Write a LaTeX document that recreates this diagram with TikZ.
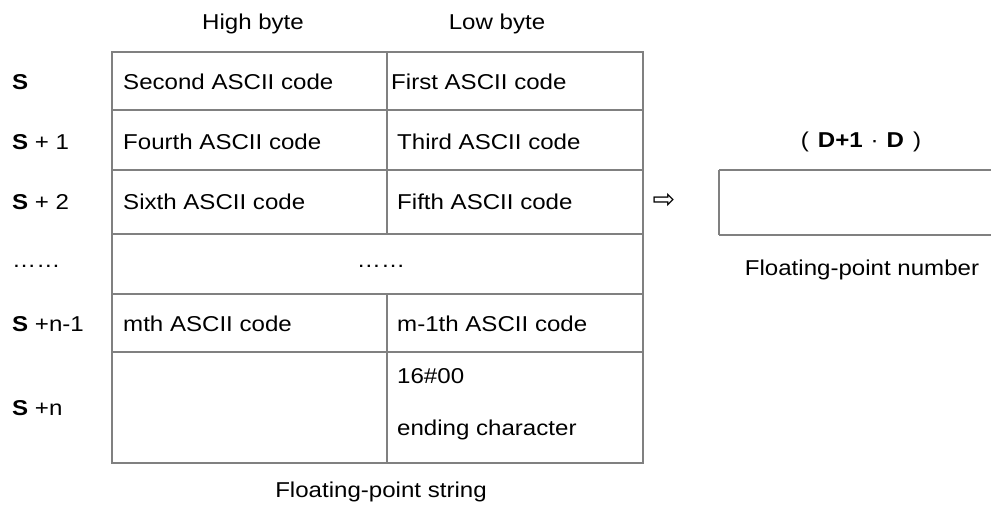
\documentclass[tikz,border=0pt]{standalone}
\usepackage{fontspec}
\setmainfont[FakeStretch=1.12]{Liberation Sans}
\newfontfamily\symfont{DejaVu Sans}
\begin{document}
\begin{tikzpicture}[x=1pt,y=-1pt,
  grid/.style={draw=black!50,line width=2pt},
  txt/.style={font=\fontsize{21.5}{25}\selectfont,inner sep=0pt,text=black},
  lft/.style={txt,anchor=west},
  ctr/.style={txt,anchor=center}]
\useasboundingbox (0,0) rectangle (991,504);
% left table
\draw[grid] (112,52) rectangle (643,463);
\foreach \yy in {110,170,234,294,352} \draw[grid] (112,\yy) -- (643,\yy);
\draw[grid] (387,52) -- (387,234);
\draw[grid] (387,294) -- (387,463);
% right box
\draw[grid] (719,170) -- (992,170);
\draw[grid] (719,235) -- (992,235);
\draw[grid] (719,170) -- (719,235);
% headers
\node[ctr] (hb) at (253,24) {High byte};
\node[ctr] (lb) at (497,24) {Low byte};
% left labels
\node[lft] (s0) at (12,82) {\textbf{S}};
\node[lft] (s1) at (12,142) {\textbf{S} + 1};
\node[lft] (s2) at (12,202) {\textbf{S} + 2};
\node[lft] (sd) at (12,266) {……};
\node[lft] (sn1) at (12,324) {\textbf{S} +n-1};
\node[lft] (sn) at (12,408) {\textbf{S} +n};
% cells
\node[lft] (c1h) at (123,82) {Second ASCII code};
\node[lft] (c1l) at (391,82) {First ASCII code};
\node[lft] (c2h) at (123,142) {Fourth ASCII code};
\node[lft] (c2l) at (397,142) {Third ASCII code};
\node[lft] (c3h) at (123,202) {Sixth ASCII code};
\node[lft] (c3l) at (397,202) {Fifth ASCII code};
\node[ctr] (cd) at (381,266) {……};
\node[lft] (cmh) at (123,324) {mth ASCII code};
\node[lft] (cml) at (397,324) {m-1th ASCII code};
\node[lft] (cz) at (397,376) {16\#00};
\node[lft] (ce) at (397,430) {ending character};
\node[ctr] (fs) at (381,492) {Floating-point string};
% right side
\node[txt,anchor=center,font=\symfont\fontsize{27}{29}\selectfont] (ar) at (664,201) {⇨};
\node[ctr] (dd) at (861,142) {(\hspace{9pt}\textbf{D+1}\hspace{8pt}·\hspace{8pt}\textbf{D}\hspace{9pt})};
\node[ctr] (fn) at (862,270) {Floating-point number};
\end{tikzpicture}
\end{document}
